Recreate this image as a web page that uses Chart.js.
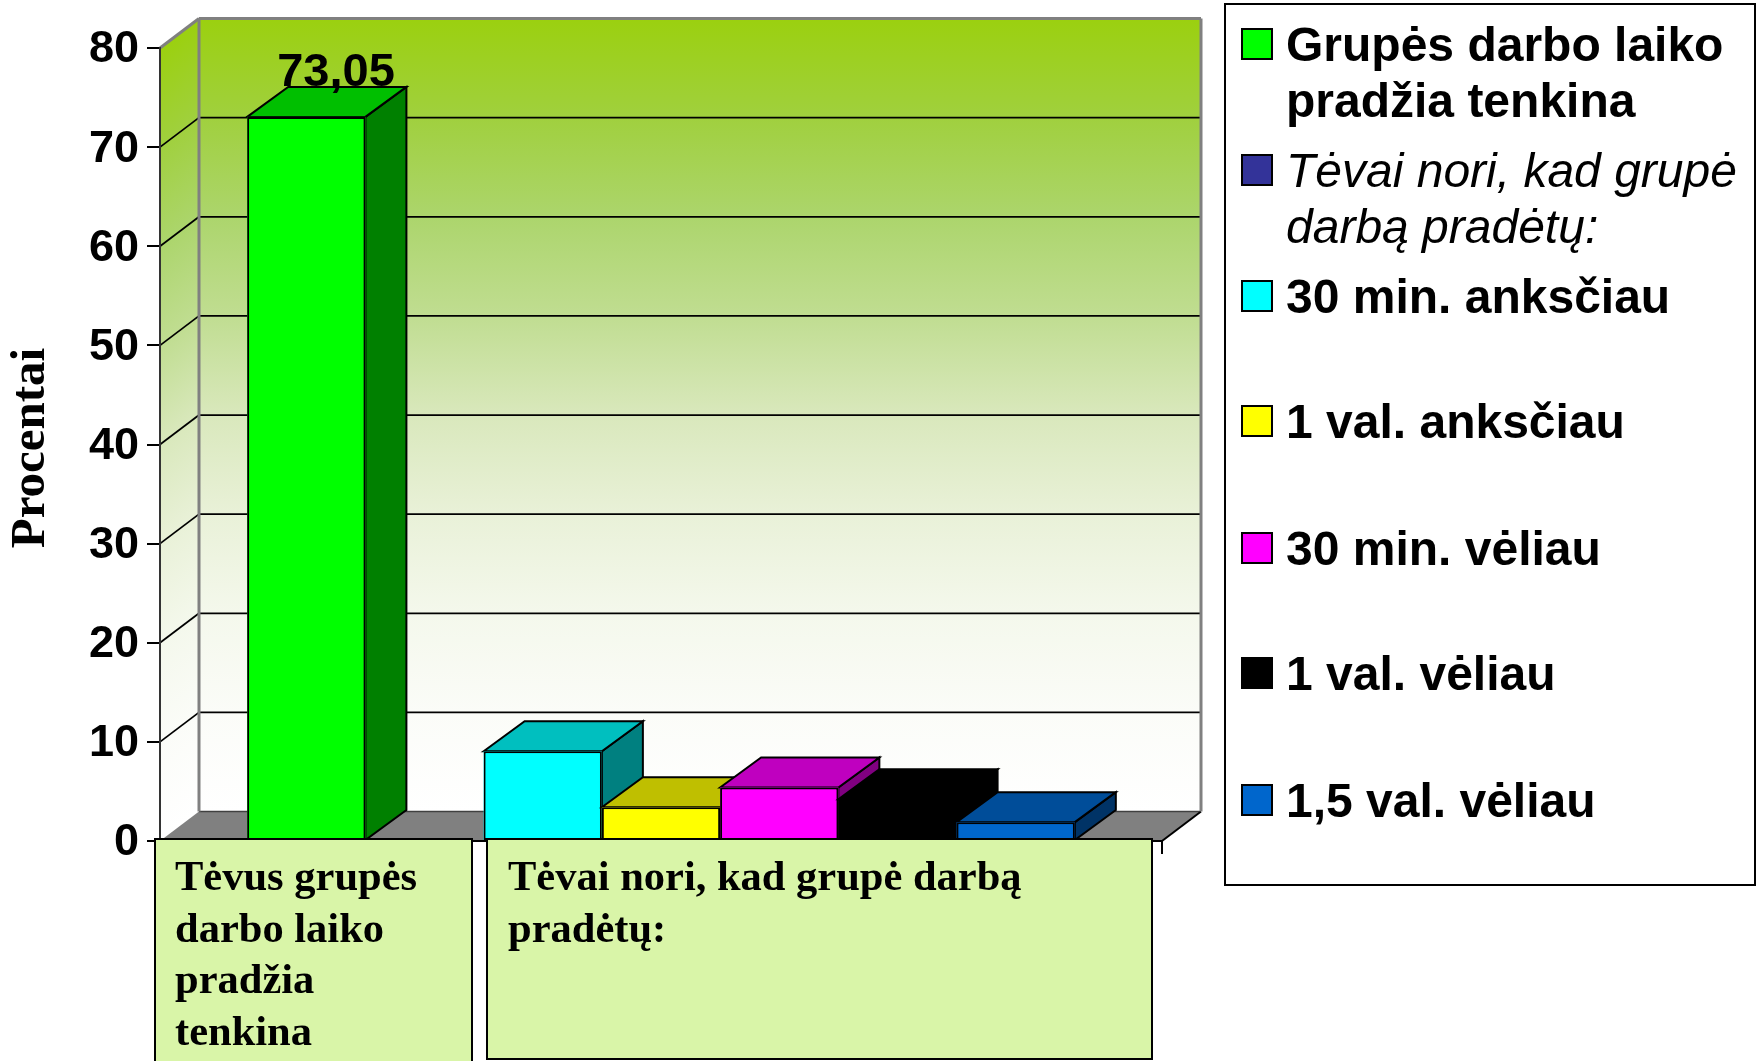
<!DOCTYPE html><html lang="lt">
<head>
  <meta charset="UTF-8" />
  <title>Grupės darbo laikas</title>
  <script src="https://cdn.jsdelivr.net/npm/chart.js"></script>
  <style>
    html, body { margin: 0; padding: 0; background: #fff; }
    canvas { display: block; }
  </style>
</head>
<body>
  <canvas id="chart" width="1757" height="1061"></canvas>
  <script>
    // data
    const seriesNames = [
      ['Grupės darbo laiko', 'pradžia tenkina'],
      ['Tėvai nori, kad grupė', 'darbą pradėtų:'],
      ['30 min. anksčiau'],
      ['1 val. anksčiau'],
      ['30 min. vėliau'],
      ['1 val. vėliau'],
      ['1,5 val. vėliau']
    ];
    const seriesValues = [73.05, null, 9.05, 3.4, 5.4, 4.2, 1.9];
    const seriesColors = ['#00ff00', '#333399', '#00ffff', '#ffff00', '#ff00ff', '#000000', '#0066cc'];
    const yTicks = [0, 10, 20, 30, 40, 50, 60, 70, 80];
    const yTitle = 'Procentai';
    const boxLeftLines = ['Tėvus grupės', 'darbo laiko', 'pradžia', 'tenkina'];
    const boxRightLines = ['Tėvai nori, kad grupė darbą', 'pradėtų:'];

    const SANS = '"Liberation Sans", Arial, sans-serif';
    const SERIF = '"Liberation Serif", "Times New Roman", serif';
    const wallDx = 39, wallDy = 29.5;
    const barDx = 41, barDy = 30;

    function shade(hex, f) {
      const n = parseInt(hex.slice(1), 16);
      const r = Math.round((n >> 16 & 255) * f);
      const g = Math.round((n >> 8 & 255) * f);
      const b = Math.round((n & 255) * f);
      return `rgb(${r},${g},${b})`;
    }

    function poly(ctx, pts, fill, stroke, lw) {
      ctx.beginPath();
      pts.forEach((p, i) => i ? ctx.lineTo(p[0], p[1]) : ctx.moveTo(p[0], p[1]));
      ctx.closePath();
      if (fill) { ctx.fillStyle = fill; ctx.fill(); }
      if (stroke) { ctx.strokeStyle = stroke; ctx.lineWidth = lw; ctx.stroke(); }
    }

    function line(ctx, x1, y1, x2, y2, color, lw) {
      ctx.beginPath();
      ctx.moveTo(x1, y1);
      ctx.lineTo(x2, y2);
      ctx.strokeStyle = color;
      ctx.lineWidth = lw;
      ctx.stroke();
    }

    // back wall, left wall and floor
    const wallsPlugin = {
      id: 'walls',
      beforeDraw(chart) {
        const ctx = chart.ctx;
        const a = chart.chartArea;
        const y = chart.scales.y;
        const top = a.top - wallDy, bottom = a.bottom - wallDy;
        const backL = a.left + wallDx, backR = a.right + wallDx;

        const grad = ctx.createLinearGradient(0, top, 0, bottom);
        grad.addColorStop(0, '#9bd00f');
        grad.addColorStop(0.125, '#a0d03e');
        grad.addColorStop(0.25, '#acd56c');
        grad.addColorStop(0.375, '#c0dd91');
        grad.addColorStop(0.5, '#d9e8bc');
        grad.addColorStop(0.625, '#e9f1d8');
        grad.addColorStop(0.75, '#f4f8ec');
        grad.addColorStop(0.875, '#fbfcf8');
        grad.addColorStop(1, '#ffffff');

        ctx.fillStyle = grad;
        ctx.fillRect(backL, top, a.right - a.left, bottom - top);

        ctx.save();
        const k = wallDy / wallDx;
        ctx.transform(1, -k, 0, 1, 0, k * backL);
        ctx.fillStyle = grad;
        ctx.fillRect(a.left, top, wallDx, bottom - top);
        ctx.restore();

        // gridlines on both walls
        yTicks.forEach(v => {
          if (v === yTicks[0] || v === yTicks[yTicks.length - 1]) return;
          const py = y.getPixelForValue(v);
          line(ctx, a.left, py, backL, py - wallDy, '#000', 1.75);
          line(ctx, backL, py - wallDy, backR, py - wallDy, '#000', 1.75);
        });

        // floor
        poly(ctx, [[a.left, a.bottom], [backL, bottom], [backR, bottom], [a.right, a.bottom]], '#808080');
        line(ctx, backL, bottom, backR, bottom, '#404040', 1.5);
        line(ctx, a.right, a.bottom, backR, bottom, '#000', 2);

        // grey wall edges
        line(ctx, a.left, a.top, backL, top, '#808080', 3);
        line(ctx, backL, top, backR, top, '#808080', 3);
        line(ctx, backL, top, backL, bottom, '#808080', 3);
        line(ctx, backR, top, backR, bottom, '#808080', 3);
      }
    };

    // bars drawn left to right, so each one covers the side of the bar before it
    const bars3dPlugin = {
      id: 'bars3d',
      beforeDatasetsDraw(chart) {
        const ctx = chart.ctx;
        chart.data.datasets.forEach((ds, i) => {
          const bar = chart.getDatasetMeta(i).data[0];
          if (ds.data[0] === null) return;
          const p = bar.getProps(['x', 'y', 'base', 'width']);
          const l = p.x - p.width / 2, r = p.x + p.width / 2;
          const color = seriesColors[i];
          poly(ctx, [[r, p.y], [r + barDx, p.y - barDy], [r + barDx, p.base - barDy], [r, p.base]], shade(color, 0.5), '#000', 2);
          poly(ctx, [[l, p.y], [l + barDx, p.y - barDy], [r + barDx, p.y - barDy], [r, p.y]], shade(color, 0.75), '#000', 2);
          // underlay, the bar's own border leaves a light seam at fractional pixels
          ctx.fillStyle = color;
          ctx.fillRect(l, p.y, p.width, p.base - p.y);
          bar.draw(ctx);
        });
        return false;
      }
    };

    const overlayPlugin = {
      id: 'overlay',
      afterDraw(chart) {
        const ctx = chart.ctx;
        ctx.save();
        ctx.textAlign = 'left';
        ctx.textBaseline = 'alphabetic';

        // value label, comma as decimal mark
        ctx.font = 'bold 47px ' + SANS;
        ctx.fillStyle = '#000';
        ctx.textAlign = 'center';
        ctx.fillText(seriesValues[0].toFixed(2).replace('.', ','), 336, 86);

        // axis title
        ctx.save();
        ctx.translate(31, 448);
        ctx.rotate(-Math.PI / 2);
        ctx.font = 'bold 49px ' + SERIF;
        ctx.textBaseline = 'middle';
        ctx.fillText(yTitle, 0, 0);
        ctx.restore();
        ctx.textAlign = 'left';

        // category boxes under the chart
        const drawBox = (x, y, w, h, textX, lines) => {
          ctx.fillStyle = '#d9f5a8';
          ctx.fillRect(x, y, w, h);
          ctx.strokeStyle = '#000';
          ctx.lineWidth = 2;
          ctx.strokeRect(x, y, w, h);
          ctx.fillStyle = '#000';
          ctx.font = 'bold 42.5px ' + SERIF;
          lines.forEach((t, i) => ctx.fillText(t, textX, 890 + i * 51.5));
        };
        drawBox(155, 839, 317, 240, 175, boxLeftLines);
        drawBox(487, 839, 665, 220, 508, boxRightLines);

        // legend box
        ctx.fillStyle = '#fff';
        ctx.fillRect(1225, 4, 530, 881);
        ctx.strokeStyle = '#000';
        ctx.lineWidth = 2;
        ctx.strokeRect(1225, 4, 530, 881);

        const legendY = [60, 186, 312, 437, 564, 689, 816];
        seriesNames.forEach((lines, i) => {
          const base = legendY[i];
          ctx.fillStyle = seriesColors[i];
          ctx.fillRect(1242, base - 31, 30, 30);
          ctx.strokeStyle = '#000';
          ctx.lineWidth = 2;
          ctx.strokeRect(1242, base - 31, 30, 30);
          ctx.fillStyle = '#000';
          ctx.font = (i === 1 ? 'italic ' : 'bold ') + '48px ' + SANS;
          lines.forEach((t, j) => ctx.fillText(t, 1286, base + 1 + j * 56));
        });
        ctx.restore();
      }
    };

    new Chart(document.getElementById('chart'), {
      type: 'bar',
      data: {
        labels: [''],
        datasets: seriesNames.map((name, i) => ({
          label: name.join(' '),
          data: [seriesValues[i]],
          backgroundColor: seriesColors[i],
          borderColor: '#000',
          borderWidth: 2,
          borderSkipped: false
        }))
      },
      options: {
        responsive: false,
        animation: false,
        categoryPercentage: 0.826,
        barPercentage: 1,
        layout: { padding: { left: 0, top: 48, right: 595, bottom: 0 } },
        plugins: { legend: { display: false }, title: { display: false }, tooltip: { enabled: false } },
        scales: {
          x: {
            grid: { offset: true, drawOnChartArea: false, drawTicks: true, tickLength: 13, color: '#000', lineWidth: 2 },
            border: { color: '#000', width: 2 },
            ticks: { display: false },
            afterFit: s => { s.height = 220; }
          },
          y: {
            min: 0,
            max: 80,
            afterFit: s => { s.width = 160; },
            afterBuildTicks: s => { s.ticks = yTicks.map(v => ({ value: v })); },
            grid: { drawOnChartArea: false, tickLength: 13, color: '#000', lineWidth: 2 },
            border: { color: '#333', width: 2 },
            ticks: { color: '#000', padding: 8, labelOffset: 2, font: { family: SANS, size: 45, weight: 'bold' } }
          }
        }
      },
      plugins: [wallsPlugin, bars3dPlugin, overlayPlugin]
    });
  </script>
</body>
</html>
